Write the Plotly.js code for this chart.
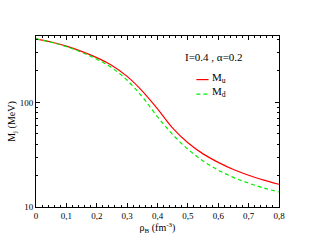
<!DOCTYPE html>
<html>
<head>
<meta charset="utf-8">
<script src="https://cdn.plot.ly/plotly-3.0.1.min.js"></script>
<style>html,body{margin:0;padding:0;background:#fff;}#chart{width:314px;height:243px;}</style>
</head>
<body>
<div id="chart"></div>
<script>
const rho = [0, 0.05, 0.1, 0.15, 0.2, 0.25, 0.3, 0.35, 0.4, 0.45, 0.5, 0.55, 0.6, 0.65, 0.7, 0.75, 0.8];
const Mu  = [405, 378, 345.6, 308, 268.2, 225.7, 177.3, 128.4, 86.8, 56.7, 41.1, 32.2, 26.7, 22.8, 20.1, 18.1, 16.5];
const Md  = [405, 376.3, 341.6, 301.7, 259.1, 214.0, 163.1, 112.9, 72.9, 49.3, 35.7, 27.6, 22.5, 19.2, 16.9, 15.2, 13.9];
const xTickVals = [0, 0.1, 0.2, 0.3, 0.4, 0.5, 0.6, 0.7, 0.8];
const xTickText = ['0', '0,1', '0,2', '0,3', '0,4', '0,5', '0,6', '0,7', '0,8'];
const yTickVals = [10, 100];
const yTickText = ['10', '100'];
const seriesNames = ['M<sub>u</sub>', 'M<sub>d</sub>'];
const paramLabel = 'I=0.4 , \u03b1=0.2';

const font = {family: 'Liberation Serif, Times New Roman, serif', color: '#000'};
const traces = [
  {x: rho, y: Mu, mode: 'lines', line: {color: '#ff0000', width: 1.2, shape: 'spline'}, name: seriesNames[0], showlegend: false},
  {x: rho, y: Md, mode: 'lines', line: {color: '#00ee00', width: 1.2, dash: '4px,3px', shape: 'spline'}, name: seriesNames[1], showlegend: false}
];
const layout = {
  width: 314, height: 243,
  margin: {l: 36, r: 35, t: 36, b: 36},
  paper_bgcolor: '#fff', plot_bgcolor: '#fff',
  font: Object.assign({size: 9}, font),
  xaxis: {
    range: [0, 0.8], tickvals: xTickVals, ticktext: xTickText,
    ticks: 'inside', ticklen: 4, tickwidth: 1, tickcolor: '#000',
    minor: {dtick: 0.02, ticks: 'inside', ticklen: 2, tickcolor: '#000', showgrid: false},
    showline: true, linecolor: '#000', linewidth: 1, mirror: 'ticks',
    showgrid: false, zeroline: false,
    tickfont: Object.assign({size: 9}, font),
    title: {text: '\u03c1<sub>B</sub> (fm<sup>-3</sup>)', font: Object.assign({size: 10}, font), standoff: 4}
  },
  yaxis: {
    type: 'log', range: [1, 2.635], tickvals: yTickVals, ticktext: yTickText,
    ticks: 'inside', ticklen: 4, tickwidth: 1, tickcolor: '#000',
    minor: {tickvals: [20,30,40,50,60,70,80,90,200,300,400], ticks: 'inside', ticklen: 2, tickcolor: '#000', showgrid: false},
    showline: true, linecolor: '#000', linewidth: 1, mirror: 'ticks',
    showgrid: false, zeroline: false,
    tickfont: Object.assign({size: 9}, font),
    title: {text: 'M<sub>j</sub> (MeV)', font: Object.assign({size: 10}, font), standoff: 2}
  },
  shapes: [
    {type: 'line', xref: 'paper', yref: 'paper', x0: 0.66, x1: 0.71, y0: 0.745, y1: 0.745, line: {color: '#ff0000', width: 1.2}},
    {type: 'line', xref: 'paper', yref: 'paper', x0: 0.66, x1: 0.71, y0: 0.66, y1: 0.66, line: {color: '#00ee00', width: 1.2, dash: '4px,3px'}}
  ],
  annotations: [
    {xref: 'paper', yref: 'paper', x: 0.605, y: 0.875, xanchor: 'left', yanchor: 'middle', text: paramLabel, showarrow: false, font: Object.assign({size: 11}, font)},
    {xref: 'paper', yref: 'paper', x: 0.715, y: 0.755, xanchor: 'left', yanchor: 'middle', text: seriesNames[0], showarrow: false, font: Object.assign({size: 11}, font)},
    {xref: 'paper', yref: 'paper', x: 0.715, y: 0.67, xanchor: 'left', yanchor: 'middle', text: seriesNames[1], showarrow: false, font: Object.assign({size: 11}, font)}
  ]
};
Plotly.newPlot('chart', traces, layout, {staticPlot: true, displayModeBar: false});
</script>
</body>
</html>
